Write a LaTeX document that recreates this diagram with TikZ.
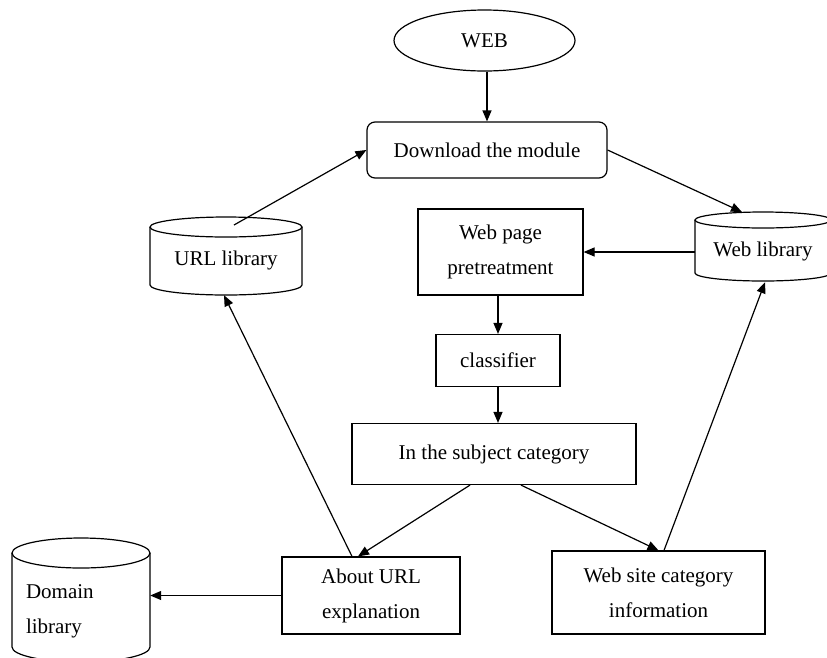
\documentclass[tikz,border=0pt]{standalone}
\usepackage{fontspec}
\setmainfont{Liberation Serif}
\usetikzlibrary{arrows.meta,shapes.geometric}
\begin{document}
\begin{tikzpicture}[x=1pt,y=-1pt,
  every node/.style={font=\fontsize{21}{35}\selectfont, inner sep=0pt},
  box/.style={draw, line width=1.2pt, rectangle, align=center},
  lbl/.style={rectangle, align=center},
  conn/.style={line width=1.2pt, -{Triangle[length=11pt,width=9pt]}},
  shp/.style={line width=1.2pt}]
\useasboundingbox (0,0) rectangle (827,657);
\clip (0,0) rectangle (827,657);
\fill[white] (0,0) rectangle (827,657);

% nodes
\node[ellipse, draw, line width=1.2pt, minimum width=181, minimum height=61] (web) at (484.5,40.5) {WEB};
\node[box, rounded corners=8pt, minimum width=240, minimum height=56] (dl) at (487,150) {Download the module};
\node[lbl, minimum width=152, minimum height=70] (url) at (226,260) {URL library};
\node[lbl, minimum width=136, minimum height=62] (wl) at (763,251) {Web library};
\node[box, minimum width=165, minimum height=86] (wp) at (500.5,252) {Web page\\pretreatment};
\node[box, minimum width=124, minimum height=52] (cl) at (498,360.5) {classifier};
\node[box, minimum width=284, minimum height=61] (sc) at (494,454) {In the subject category};
\node[box, minimum width=178, minimum height=77] (au) at (371,595.5) {About URL\\explanation};
\node[box, minimum width=213, minimum height=83] (ws) at (658.5,592.5) {Web site category\\information};
\node[lbl, text width=110, align=left, minimum width=138, minimum height=120] (dom) at (81,611) {Domain\\library};

% cylinders
\draw[shp] (226,227) ellipse [x radius=76, y radius=10];
\draw[shp] (150,227) -- (150,285) arc[start angle=180, end angle=0, x radius=76, y radius=10] -- (302,227);
\draw[shp] (763,220) ellipse [x radius=68, y radius=8];
\draw[shp] (695,220) -- (695,273) arc[start angle=180, end angle=0, x radius=68, y radius=8] -- (831,220);
\draw[shp] (81,553) ellipse [x radius=69, y radius=15];
\draw[shp] (12,553) -- (12,647) arc[start angle=180, end angle=0, x radius=69, y radius=15] -- (150,553);

% connectors
\draw[conn] (web.south -| dl.north) -- (dl.north);
\draw[conn] ([shift={(8,-35)}]url.center) -- (dl.west);
\draw[conn] (dl.east) -- ([shift={(-21,-39)}]wl.center);
\draw[conn] (wp.east -| wl.west) -- (wp.east);
\draw[conn] (cl.north |- wp.south) -- (cl.north);
\draw[conn] (cl.south) -- (cl.south |- sc.north);
\draw[conn] ([xshift=-24pt]sc.south) -- ([xshift=-13pt]au.north);
\draw[conn] ([xshift=27pt]sc.south) -- (ws.north);
\draw[conn] ([xshift=-19pt]au.north) -- ([xshift=-2pt]url.south);
\draw[conn] ([xshift=5.5pt]ws.north) -- ([xshift=2pt]wl.south);
\draw[conn] (au.west) -- (au.west -| dom.east);
\end{tikzpicture}
\end{document}
